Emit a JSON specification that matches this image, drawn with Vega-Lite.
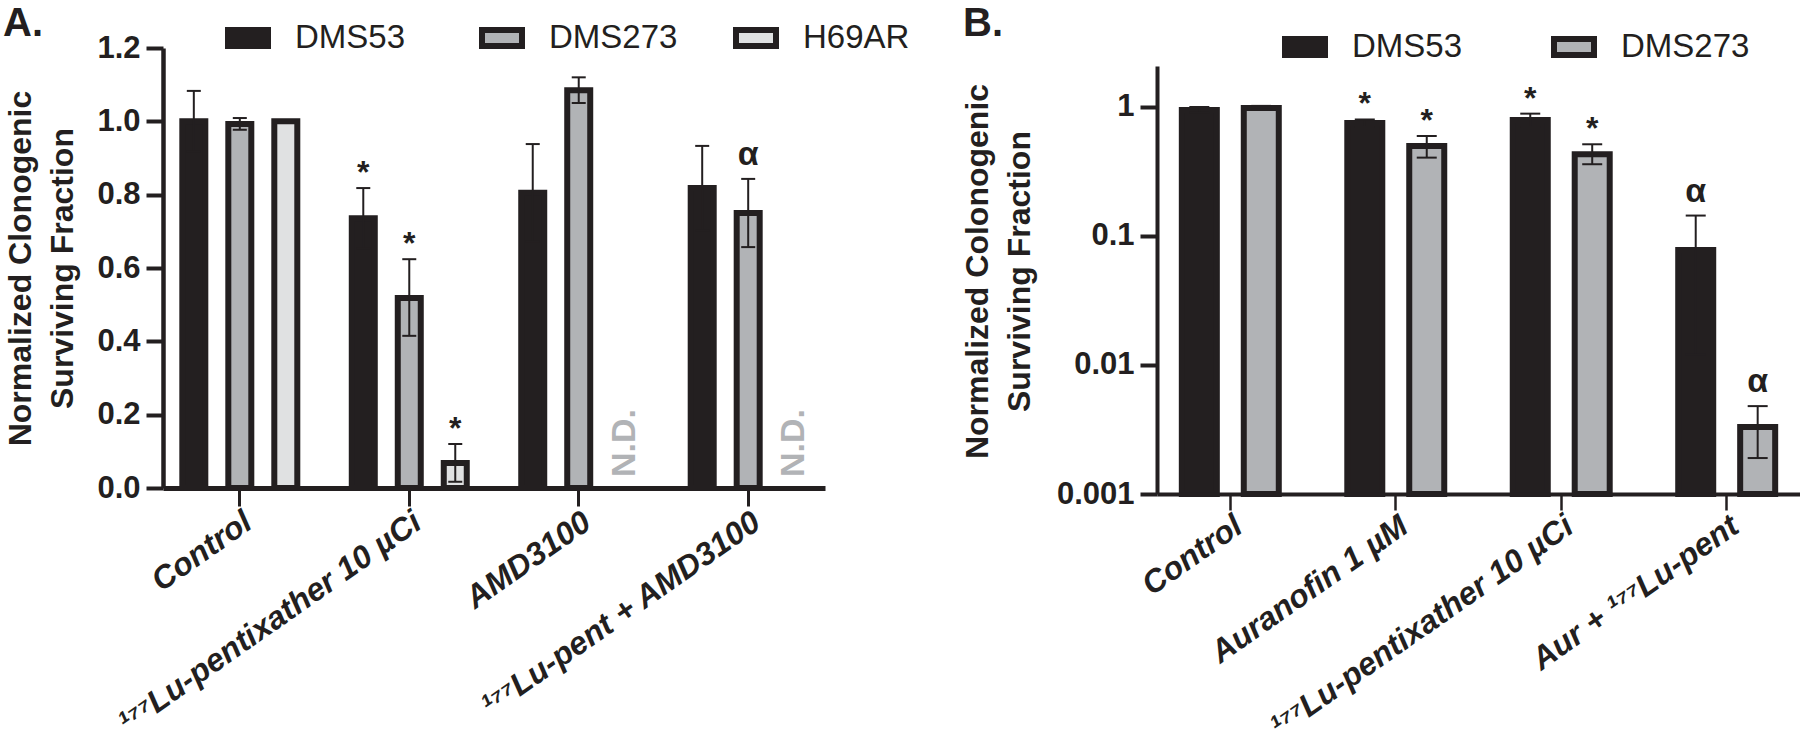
{
  "$schema": "https://vega.github.io/schema/vega-lite/v6.json",
  "padding": {"left": 3, "top": 4, "right": 0, "bottom": 0},
  "background": "white",
  "datasets": {
    "a": [
      {"treatment": "Control", "line": "DMS53", "mean": 1.0, "lo": 0.917, "hi": 1.083, "sig": null, "nd": null},
      {"treatment": "Control", "line": "DMS273", "mean": 0.993, "lo": 0.977, "hi": 1.009, "sig": null, "nd": null},
      {"treatment": "Control", "line": "H69AR", "mean": 1.0, "lo": null, "hi": null, "sig": null, "nd": null},
      {"treatment": "¹⁷⁷Lu-pentixather 10 µCi", "line": "DMS53", "mean": 0.736, "lo": 0.654, "hi": 0.818, "sig": "*", "nd": null},
      {"treatment": "¹⁷⁷Lu-pentixather 10 µCi", "line": "DMS273", "mean": 0.518, "lo": 0.415, "hi": 0.624, "sig": "*", "nd": null},
      {"treatment": "¹⁷⁷Lu-pentixather 10 µCi", "line": "H69AR", "mean": 0.068, "lo": 0.017, "hi": 0.12, "sig": "*", "nd": null},
      {"treatment": "AMD3100", "line": "DMS53", "mean": 0.805, "lo": 0.672, "hi": 0.938, "sig": null, "nd": null},
      {"treatment": "AMD3100", "line": "DMS273", "mean": 1.085, "lo": 1.05, "hi": 1.12, "sig": null, "nd": null},
      {"treatment": "AMD3100", "line": "H69AR", "mean": null, "lo": null, "hi": null, "sig": null, "nd": "N.D."},
      {"treatment": "¹⁷⁷Lu-pent + AMD3100", "line": "DMS53", "mean": 0.818, "lo": 0.703, "hi": 0.933, "sig": null, "nd": null},
      {"treatment": "¹⁷⁷Lu-pent + AMD3100", "line": "DMS273", "mean": 0.75, "lo": 0.657, "hi": 0.843, "sig": "α", "nd": null},
      {"treatment": "¹⁷⁷Lu-pent + AMD3100", "line": "H69AR", "mean": null, "lo": null, "hi": null, "sig": null, "nd": "N.D."}
    ],
    "b": [
      {"treatment": "Control", "line": "DMS53", "mean": 0.948, "lo": 0.9, "hi": 1.0, "sig": null},
      {"treatment": "Control", "line": "DMS273", "mean": 0.98, "lo": 0.96, "hi": 1.02, "sig": null},
      {"treatment": "Auranofin 1 µM", "line": "DMS53", "mean": 0.751, "lo": 0.7, "hi": 0.8, "sig": "*"},
      {"treatment": "Auranofin 1 µM", "line": "DMS273", "mean": 0.499, "lo": 0.405, "hi": 0.596, "sig": "*"},
      {"treatment": "¹⁷⁷Lu-pentixather 10 µCi", "line": "DMS53", "mean": 0.793, "lo": 0.7, "hi": 0.888, "sig": "*"},
      {"treatment": "¹⁷⁷Lu-pentixather 10 µCi", "line": "DMS273", "mean": 0.43, "lo": 0.36, "hi": 0.514, "sig": "*"},
      {"treatment": "Aur + ¹⁷⁷Lu-pent", "line": "DMS53", "mean": 0.078, "lo": 0.012, "hi": 0.144, "sig": "α"},
      {"treatment": "Aur + ¹⁷⁷Lu-pent", "line": "DMS273", "mean": 0.0033, "lo": 0.0019, "hi": 0.0048, "sig": "α"}
    ]
  },
  "hconcat": [
    {
      "width": 662,
      "height": 440,
      "data": {"name": "a"},
      "title": {"text": "A.", "anchor": "start", "frame": "group", "fontSize": 40, "fontWeight": "bold", "color": "#231f20", "dx": -160, "dy": 29, "offset": 0},
      "encoding": {
        "x": {
          "field": "treatment", "type": "nominal", "sort": null,
          "scale": {"domain": ["Control", "¹⁷⁷Lu-pentixather 10 µCi", "AMD3100", "¹⁷⁷Lu-pent + AMD3100"], "paddingInner": 0.3215, "paddingOuter": 0.114},
          "axis": {"title": null, "labelAngle": -35, "labelFontSize": 32, "labelFontWeight": "bold", "labelFontStyle": "italic", "labelLimit": 0, "labelPadding": 0, "tickSize": 18, "tickWidth": 3, "domainWidth": 5, "zindex": 1}
        },
        "xOffset": {"field": "line", "type": "nominal", "scale": {"domain": ["DMS53", "DMS273", "H69AR"], "paddingInner": 0.5, "paddingOuter": 0}}
      },
      "layer": [
        {
          "mark": {"type": "bar", "stroke": "#231f20", "strokeWidth": 6},
          "encoding": {
            "y": {
              "field": "mean", "type": "quantitative",
              "scale": {"domain": [0, 1.2], "nice": false},
              "axis": {"values": [0, 0.2, 0.4, 0.6, 0.8, 1.0, 1.2], "format": ".1f", "labelFontSize": 31, "labelFontWeight": "bold", "labelPadding": 6, "tickSize": 17, "tickWidth": 4, "domainWidth": 4.5, "zindex": 1,
                "title": ["Normalized Clonogenic", "Surviving Fraction"], "titleFontSize": 32, "titleFontWeight": "bold", "titleLineHeight": 42, "titlePadding": 17}
            },
            "fill": {
              "field": "line", "type": "nominal",
              "scale": {"domain": ["DMS53", "DMS273", "H69AR"], "range": ["#231f20", "#b1b3b6", "#e0e1e2"]},
              "legend": {"orient": "none", "legendX": 62, "legendY": -33, "direction": "horizontal", "columns": 3, "gridAlign": "all", "columnPadding": 46, "title": null,
                "labelFontSize": 33, "labelFont": "Liberation Sans", "labelFontWeight": "normal", "labelColor": "#231f20", "labelOffset": 24,
                "symbolType": "M-1,-0.4H1V0.4H-1Z", "symbolSize": 1600, "symbolStrokeColor": "#231f20", "symbolStrokeWidth": 6, "symbolOpacity": 1}
            }
          }
        },
        {
          "mark": {"type": "rule", "color": "#231f20", "strokeWidth": 2},
          "encoding": {"y": {"field": "lo", "type": "quantitative"}, "y2": {"field": "hi"}}
        },
        {
          "mark": {"type": "tick", "orient": "horizontal", "color": "#231f20", "thickness": 2, "size": 14, "opacity": 1},
          "encoding": {"y": {"field": "hi", "type": "quantitative"}}
        },
        {
          "mark": {"type": "tick", "orient": "horizontal", "color": "#231f20", "thickness": 2, "size": 14, "opacity": 1},
          "encoding": {"y": {"field": "lo", "type": "quantitative"}}
        },
        {
          "transform": [{"filter": "datum.sig === '*'"}],
          "mark": {"type": "text", "fontSize": 32, "fontWeight": "bold", "baseline": "alphabetic", "dy": -5, "color": "#231f20"},
          "encoding": {"y": {"field": "hi", "type": "quantitative"}, "text": {"field": "sig"}}
        },
        {
          "transform": [{"filter": "datum.sig === 'α'"}],
          "mark": {"type": "text", "fontSize": 34, "fontWeight": "bold", "baseline": "alphabetic", "dy": -14, "color": "#231f20"},
          "encoding": {"y": {"field": "hi", "type": "quantitative"}, "text": {"field": "sig"}}
        },
        {
          "transform": [{"filter": "datum.nd !== null"}],
          "mark": {"type": "text", "fontSize": 34, "fontWeight": "bold", "angle": 270, "align": "left", "baseline": "middle", "dx": 11, "color": "#b1b3b6"},
          "encoding": {"y": {"datum": 0}, "text": {"field": "nd"}}
        }
      ]
    },
    {
      "width": 643,
      "height": 446,
      "data": {"name": "b"},
      "title": {"text": "B.", "anchor": "start", "frame": "group", "fontSize": 40, "fontWeight": "bold", "color": "#231f20", "dx": -194, "dy": 20, "offset": 0},
      "encoding": {
        "x": {
          "field": "treatment", "type": "nominal", "sort": null,
          "scale": {"domain": ["Control", "Auranofin 1 µM", "¹⁷⁷Lu-pentixather 10 µCi", "Aur + ¹⁷⁷Lu-pent"], "paddingInner": 0.414, "paddingOuter": 0.15},
          "axis": {"title": null, "labelAngle": -35, "labelFontSize": 32, "labelFontWeight": "bold", "labelFontStyle": "italic", "labelLimit": 0, "labelPadding": 0, "tickSize": 16, "tickWidth": 2.5, "domainWidth": 4, "zindex": 1}
        },
        "xOffset": {"field": "line", "type": "nominal", "scale": {"domain": ["DMS53", "DMS273"], "paddingInner": 0.435, "paddingOuter": 0}}
      },
      "layer": [
        {
          "mark": {"type": "bar", "stroke": "#231f20", "strokeWidth": 6},
          "encoding": {
            "y": {
              "field": "mean", "type": "quantitative",
              "scale": {"type": "log", "domain": [0.001, 2.866], "nice": false},
              "axis": {"values": [0.001, 0.01, 0.1, 1], "format": "~g", "labelFontSize": 31, "labelFontWeight": "bold", "labelPadding": 6, "tickSize": 17, "tickWidth": 4, "domainWidth": 4, "domainDash": [428, 100], "zindex": 1,
                "title": ["Normalized Colonogenic", "Surviving Fraction"], "titleFontSize": 32, "titleFontWeight": "bold", "titleLineHeight": 42, "titlePadding": 20}
            },
            "y2": {"datum": 0.001},
            "fill": {
              "field": "line", "type": "nominal",
              "scale": {"domain": ["DMS53", "DMS273"], "range": ["#231f20", "#b1b3b6"]},
              "legend": {"orient": "none", "legendX": 125, "legendY": -24, "direction": "horizontal", "columns": 2, "gridAlign": "all", "columnPadding": 61, "title": null,
                "labelFontSize": 33, "labelFont": "Liberation Sans", "labelFontWeight": "normal", "labelColor": "#231f20", "labelOffset": 24,
                "symbolType": "M-1,-0.4H1V0.4H-1Z", "symbolSize": 1600, "symbolStrokeColor": "#231f20", "symbolStrokeWidth": 6, "symbolOpacity": 1}
            }
          }
        },
        {
          "mark": {"type": "rule", "color": "#231f20", "strokeWidth": 2},
          "encoding": {"y": {"field": "lo", "type": "quantitative"}, "y2": {"field": "hi"}}
        },
        {
          "mark": {"type": "tick", "orient": "horizontal", "color": "#231f20", "thickness": 2, "size": 20, "opacity": 1},
          "encoding": {"y": {"field": "hi", "type": "quantitative"}}
        },
        {
          "mark": {"type": "tick", "orient": "horizontal", "color": "#231f20", "thickness": 2, "size": 20, "opacity": 1},
          "encoding": {"y": {"field": "lo", "type": "quantitative"}}
        },
        {
          "transform": [{"filter": "datum.sig === '*'"}],
          "mark": {"type": "text", "fontSize": 32, "fontWeight": "bold", "baseline": "alphabetic", "dy": -5, "color": "#231f20"},
          "encoding": {"y": {"field": "hi", "type": "quantitative"}, "text": {"field": "sig"}}
        },
        {
          "transform": [{"filter": "datum.sig === 'α'"}],
          "mark": {"type": "text", "fontSize": 34, "fontWeight": "bold", "baseline": "alphabetic", "dy": -14, "color": "#231f20"},
          "encoding": {"y": {"field": "hi", "type": "quantitative"}, "text": {"field": "sig"}}
        }
      ]
    }
  ],
  "spacing": 332,
  "bounds": "flush",
  "resolve": {"scale": {"x": "independent", "y": "independent", "xOffset": "independent", "fill": "independent"}, "legend": {"fill": "independent"}},
  "config": {
    "font": "Liberation Sans",
    "view": {"stroke": null},
    "axis": {"domainColor": "#231f20", "tickColor": "#231f20", "labelColor": "#231f20", "titleColor": "#231f20", "grid": false}
  }
}
